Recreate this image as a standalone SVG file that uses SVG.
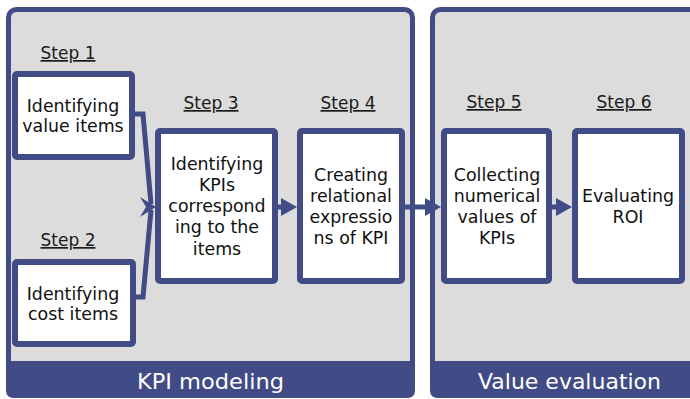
<svg xmlns="http://www.w3.org/2000/svg" width="690" height="399" viewBox="0 0 690 399">
<style>
.panel{fill:#DCDCDC;stroke:#414B86;stroke-width:5}
.band{fill:#414B86}
.box{fill:#FFFFFF;stroke:#414B86;stroke-width:6}
.step{font-family:"DejaVu Sans",Verdana,sans-serif;font-size:17px;fill:#1a1a1a;text-anchor:middle;text-decoration:underline}
.lbl{font-family:"DejaVu Sans",Verdana,sans-serif;font-size:17.4px;fill:#111111;text-anchor:middle}
.band-t{font-family:"DejaVu Sans",Verdana,sans-serif;font-size:22px;fill:#FFFFFF}
.conn{fill:none;stroke:#414B86;stroke-width:5}
.head{fill:#414B86}
</style>
<defs>
<marker id="arr" markerUnits="userSpaceOnUse" markerWidth="16" markerHeight="18" viewBox="0 0 16 18" refX="2" refY="9" orient="auto">
<path d="M0,0 L16,9 L0,18 Z" fill="#414B86"/>
</marker>
</defs>

<g id="panel-kpi-modeling">
<rect class="panel" x="8.5" y="9.5" width="404" height="386" rx="8"/>
<path class="band" d="M6,361 H415 V390 Q415,398 407,398 H14 Q6,398 6,390 Z"/>
<text class="band-t" x="137" y="389" textLength="147" lengthAdjust="spacingAndGlyphs">KPI modeling</text>
</g>

<g id="panel-value-evaluation">
<rect class="panel" x="432.5" y="9.5" width="270" height="386" rx="8"/>
<path class="band" d="M430,361 H700 V398 H438 Q430,398 430,390 Z"/>
<text class="band-t" x="478" y="389" textLength="183" lengthAdjust="spacingAndGlyphs">Value evaluation</text>
</g>

<g id="connectors">
<path class="conn" d="M135,114 H143 L151,204"/>
<path class="conn" d="M136,297 H143 L151,210"/>
<polygon class="head" points="140,197 156,207 140,217 146,207"/>
<path class="conn" d="M278,207 H283" marker-end="url(#arr)"/>
<path class="conn" d="M405,207 H427" marker-end="url(#arr)"/>
<path class="conn" d="M552,207 H558" marker-end="url(#arr)"/>
</g>

<g id="step1">
<text class="step" x="68" y="59">Step 1</text>
<rect class="box" x="15" y="74" width="117" height="83" rx="2"/>
<text class="lbl" x="73" y="112">Identifying</text>
<text class="lbl" x="73" y="132">value items</text>
</g>

<g id="step2">
<text class="step" x="68" y="246">Step 2</text>
<rect class="box" x="15" y="262" width="118" height="82" rx="2"/>
<text class="lbl" x="73" y="300">Identifying</text>
<text class="lbl" x="73" y="320">cost items</text>
</g>

<g id="step3">
<text class="step" x="211" y="109">Step 3</text>
<rect class="box" x="158" y="131" width="117" height="150" rx="2"/>
<text class="lbl" x="217" y="170">Identifying</text>
<text class="lbl" x="217" y="191">KPIs</text>
<text class="lbl" x="217" y="212">correspond</text>
<text class="lbl" x="217" y="233">ing to the</text>
<text class="lbl" x="217" y="255">items</text>
</g>

<g id="step4">
<text class="step" x="348" y="109">Step 4</text>
<rect class="box" x="300" y="131" width="102" height="150" rx="2"/>
<text class="lbl" x="351" y="181">Creating</text>
<text class="lbl" x="351" y="202">relational</text>
<text class="lbl" x="351" y="223">expressio</text>
<text class="lbl" x="351" y="244">ns of KPI</text>
</g>

<g id="step5">
<text class="step" x="494" y="108">Step 5</text>
<rect class="box" x="444" y="131" width="105" height="150" rx="2"/>
<text class="lbl" x="497" y="181">Collecting</text>
<text class="lbl" x="497" y="202">numerical</text>
<text class="lbl" x="497" y="223">values of</text>
<text class="lbl" x="497" y="244">KPIs</text>
</g>

<g id="step6">
<text class="step" x="624" y="108">Step 6</text>
<rect class="box" x="575" y="131" width="107" height="150" rx="2"/>
<text class="lbl" x="628" y="202">Evaluating</text>
<text class="lbl" x="628" y="223">ROI</text>
</g>
</svg>
